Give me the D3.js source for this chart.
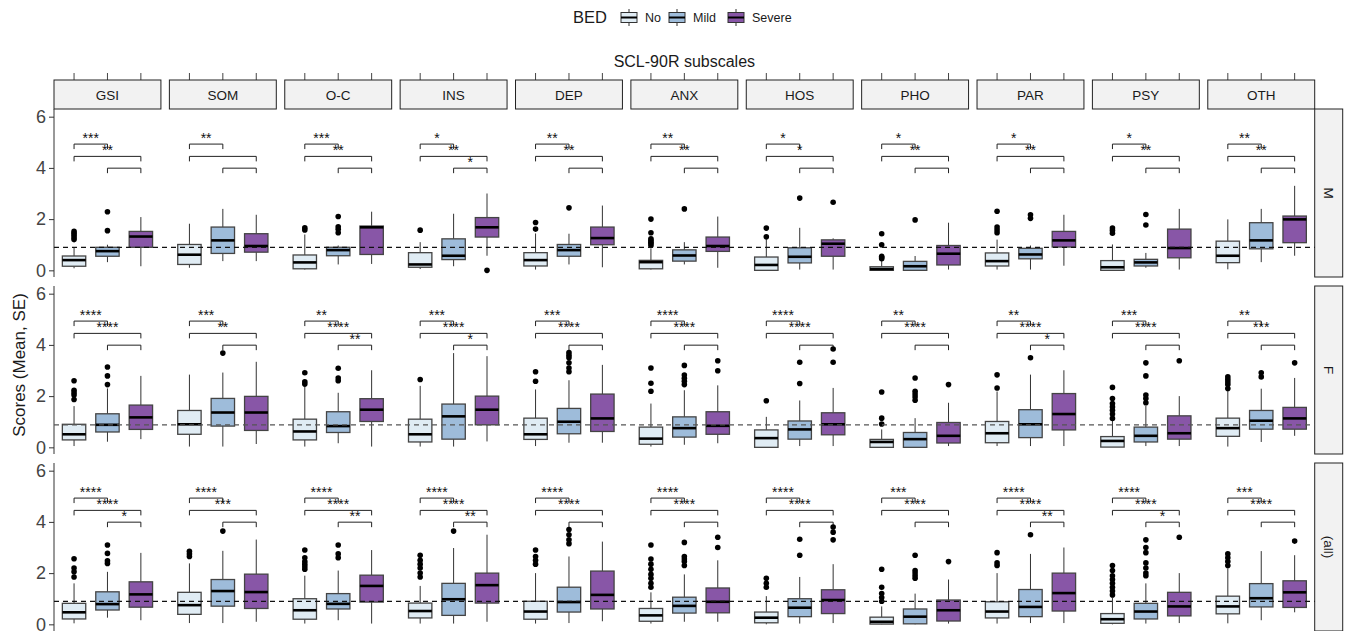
<!DOCTYPE html>
<html>
<head>
<meta charset="utf-8">
<script src="https://cdn.jsdelivr.net/npm/d3@7"></script>
<style>
body { margin: 0; background: #fff; }
svg text { font-family: "Liberation Sans", Arial, sans-serif; }
</style>
</head>
<body>
<div id="chart"></div>
<script>
var subscales = ["GSI", "SOM", "O-C", "INS", "DEP", "ANX", "HOS", "PHO", "PAR", "PSY", "OTH"];
var groups = ["No", "Mild", "Severe"];
var sexes = ["M", "F", "(all)"];
var groupColors = ["#E0ECF4", "#9EBCDA", "#8856A7"];
var yTicks = [0, 2, 4, 6];
var refLine = [0.9, 0.88, 0.9];
var bracketLevels = [4.93, 4.45, 3.99];
var bracketPairs = [[0, 1], [0, 2], [1, 2]];

// [lower whisker, q1, median, q3, upper whisker] per subscale x group
var boxM = [
	[[0.08, 0.16, 0.40, 0.56, 0.9], [0.32, 0.55, 0.75, 0.9, 1.0], [0.16, 0.9, 1.32, 1.52, 2.08]],
	[[0.1, 0.23, 0.61, 1.01, 1.82], [0.36, 0.66, 1.17, 1.69, 2.4], [0.36, 0.71, 0.95, 1.43, 2.17]],
	[[0.03, 0.06, 0.31, 0.6, 1.4], [0.23, 0.57, 0.79, 0.9, 0.97], [0.25, 0.62, 1.68, 1.73, 2.29]],
	[[0.05, 0.12, 0.23, 0.69, 1.1], [0.16, 0.42, 0.57, 1.23, 2.21], [0.57, 1.3, 1.68, 2.06, 3.0]],
	[[0.03, 0.17, 0.4, 0.69, 1.44], [0.23, 0.55, 0.79, 1.01, 1.43], [0.12, 1.0, 1.26, 1.69, 2.53]],
	[[0.03, 0.06, 0.32, 0.39, 0.85], [0.23, 0.36, 0.58, 0.8, 1.1], [0.1, 0.74, 0.95, 1.3, 2.1]],
	[[0, 0, 0.21, 0.52, 1.23], [0.03, 0.29, 0.53, 0.88, 1.66], [0.03, 0.55, 1.04, 1.19, 1.25]],
	[[0, 0, 0.05, 0.14, 0.43], [0, 0, 0.16, 0.35, 0.56], [0.03, 0.21, 0.65, 0.97, 1.86]],
	[[0.03, 0.17, 0.36, 0.68, 1.2], [0.03, 0.45, 0.62, 0.86, 0.97], [0.18, 0.91, 1.17, 1.52, 2.17]],
	[[0, 0, 0.12, 0.38, 1.01], [0.1, 0.17, 0.31, 0.43, 0.68], [0.03, 0.49, 0.87, 1.61, 2.4]],
	[[0.04, 0.3, 0.57, 1.14, 1.99], [0.32, 0.84, 1.17, 1.86, 2.4], [0.57, 1.08, 1.99, 2.12, 3.3]]
];
var boxF = [
	[[0.05, 0.29, 0.51, 0.9, 1.61], [0.22, 0.6, 0.88, 1.31, 2.3], [0.32, 0.7, 1.17, 1.65, 2.79]],
	[[0.03, 0.51, 0.9, 1.44, 2.84], [0.03, 0.83, 1.36, 1.91, 2.92], [0.13, 0.66, 1.36, 1.99, 3.34]],
	[[0.03, 0.29, 0.62, 1.1, 2.36], [0.16, 0.58, 0.83, 1.39, 2.13], [0.03, 1.01, 1.47, 1.9, 3.01]],
	[[0.03, 0.21, 0.51, 1.1, 2.4], [0.03, 0.32, 1.21, 1.69, 3.68], [0.23, 0.88, 1.47, 2.0, 3.56]],
	[[0.05, 0.31, 0.51, 1.14, 2.26], [0.18, 0.53, 1.0, 1.52, 2.62], [0.18, 0.62, 1.13, 2.08, 3.22]],
	[[0.03, 0.12, 0.34, 0.79, 1.71], [0.1, 0.4, 0.75, 1.19, 2.23], [0.16, 0.51, 0.84, 1.39, 2.42]],
	[[0, 0, 0.36, 0.68, 1.19], [0.05, 0.32, 0.7, 1.03, 1.83], [0.05, 0.49, 0.9, 1.35, 2.32]],
	[[0, 0, 0.21, 0.31, 0.7], [0, 0, 0.32, 0.58, 1.14], [0.05, 0.17, 0.45, 0.97, 1.74]],
	[[0.05, 0.18, 0.55, 1.01, 2.18], [0.05, 0.38, 0.9, 1.47, 2.84], [0.05, 0.68, 1.3, 2.1, 3.01]],
	[[0.01, 0.01, 0.25, 0.42, 1.04], [0.05, 0.21, 0.45, 0.79, 1.62], [0.05, 0.32, 0.55, 1.23, 2.0]],
	[[0.03, 0.43, 0.75, 1.14, 2.23], [0.21, 0.71, 1.04, 1.44, 2.29], [0.45, 0.71, 1.13, 1.56, 2.71]]
];
var boxAll = [
	[[0.04, 0.21, 0.47, 0.82, 1.6], [0.26, 0.56, 0.79, 1.27, 2.05], [0.16, 0.67, 1.17, 1.66, 2.79]],
	[[0.05, 0.39, 0.75, 1.25, 2.38], [0.05, 0.71, 1.3, 1.75, 2.87], [0.1, 0.62, 1.26, 1.96, 3.31]],
	[[0.03, 0.2, 0.55, 1.0, 1.9], [0.16, 0.6, 0.8, 1.2, 2.1], [0.03, 0.87, 1.5, 1.92, 2.9]],
	[[0.03, 0.25, 0.52, 0.83, 1.5], [0.03, 0.35, 0.98, 1.6, 2.98], [0.1, 0.83, 1.53, 2.0, 3.5]],
	[[0.03, 0.2, 0.5, 0.9, 2.0], [0.05, 0.48, 0.87, 1.45, 2.65], [0.12, 0.6, 1.15, 2.08, 3.23]],
	[[0.03, 0.12, 0.35, 0.62, 1.25], [0.1, 0.44, 0.72, 1.06, 1.95], [0.1, 0.45, 0.88, 1.42, 2.5]],
	[[0, 0.06, 0.26, 0.48, 1.1], [0.03, 0.3, 0.65, 1.0, 1.85], [0.05, 0.42, 0.95, 1.35, 2.35]],
	[[0, 0.01, 0.1, 0.28, 0.7], [0, 0.02, 0.3, 0.6, 1.2], [0.03, 0.13, 0.55, 0.95, 1.75]],
	[[0.03, 0.25, 0.5, 0.88, 2.0], [0.05, 0.3, 0.68, 1.36, 2.75], [0.05, 0.52, 1.22, 2.0, 3.0]],
	[[0, 0.04, 0.2, 0.42, 1.05], [0.03, 0.21, 0.5, 0.82, 1.6], [0.05, 0.33, 0.7, 1.25, 2.0]],
	[[0.04, 0.41, 0.7, 1.1, 2.19], [0.16, 0.68, 1.02, 1.59, 2.86], [0.47, 0.66, 1.25, 1.7, 2.7]]
];

// outlier points per subscale x group
var outM = [
	[[1.2, 1.28, 1.37, 1.45, 1.52], [1.55, 2.29], []],
	[[], [], []],
	[[1.58, 1.66], [1.47, 1.6, 1.7, 2.1], []],
	[[1.57], [], [0.0]],
	[[1.61, 1.87], [2.44], []],
	[[0.97, 1.05, 1.1, 1.17, 1.23, 1.47, 2.0], [2.4], []],
	[[1.31, 1.65], [2.82], [2.66]],
	[[0.45, 0.5, 0.55, 1.0, 1.43], [1.97], []],
	[[1.47, 1.58, 1.69, 2.31], [2.03, 2.17], []],
	[[1.45, 1.56, 1.65], [1.77, 2.18], []],
	[[], [], []]
];
var outF = [
	[[1.87, 2.04, 2.13, 2.23, 2.6], [2.45, 2.79, 3.14], []],
	[[], [3.68], []],
	[[2.47, 2.56, 2.91], [2.6, 2.71, 3.09], []],
	[[2.65], [], []],
	[[2.58, 2.95], [2.95, 3.1, 3.3, 3.5, 3.6, 3.7], []],
	[[2.19, 2.5, 3.1], [2.45, 2.58, 2.7, 2.82, 3.2], [2.99, 3.38]],
	[[1.82], [2.49, 3.32], [3.32, 3.84]],
	[[0.91, 1.14, 2.16], [1.84, 1.97, 2.08, 2.19, 2.71], [2.45]],
	[[2.32, 2.83], [3.5], []],
	[[1.13, 1.3, 1.45, 1.58, 1.71, 1.91, 2.34], [1.74, 1.91, 2.04, 2.79, 3.3], [3.38]],
	[[2.3, 2.45, 2.55, 2.65, 2.75], [2.75, 2.91], [3.3]]
];
var outAll = [
	[[1.85, 2.05, 2.2, 2.56], [2.38, 2.48, 2.77, 3.1], []],
	[[2.65, 2.75, 2.85], [3.64], []],
	[[2.15, 2.25, 2.35, 2.45, 2.6, 2.9], [2.6, 2.75, 3.1], []],
	[[1.85, 2.0, 2.2, 2.35, 2.5, 2.7], [3.64], []],
	[[2.35, 2.5, 2.65, 2.9], [3.15, 3.3, 3.5, 3.7], []],
	[[1.45, 1.6, 1.8, 1.95, 2.15, 2.35, 2.55, 3.1], [2.3, 2.45, 2.55, 2.65, 3.2], [3.0, 3.4]],
	[[1.45, 1.6, 1.8], [2.7, 3.32], [3.3, 3.6, 3.8]],
	[[0.9, 1.05, 1.2, 1.45, 2.15], [1.8, 1.9, 2.0, 2.1, 2.7], [2.45]],
	[[2.3, 2.4, 2.8], [3.5], []],
	[[1.15, 1.3, 1.45, 1.6, 1.75, 1.9, 2.1, 2.3], [1.9, 2.0, 2.2, 2.4, 2.8, 3.0, 3.3], [3.4]],
	[[2.3, 2.45, 2.6, 2.75], [], [3.25]]
];

// significance labels: No-Mild, No-Severe, Mild-Severe
var sigM = [["***", "**", ""], ["**", "", ""], ["***", "**", ""], ["*", "**", "*"], ["**", "**", ""], ["**", "**", ""],
	["*", "*", ""], ["*", "**", ""], ["*", "**", ""], ["*", "**", ""], ["**", "**", ""]];
var sigF = [["****", "****", ""], ["***", "**", ""], ["**", "****", "**"], ["***", "****", "*"], ["***", "****", ""], ["****", "****", ""],
	["****", "****", ""], ["**", "****", ""], ["**", "****", "*"], ["***", "****", ""], ["**", "***", ""]];
var sigAll = [["****", "****", "*"], ["****", "***", ""], ["****", "****", "**"], ["****", "****", "**"], ["****", "****", ""], ["****", "****", ""],
	["****", "****", ""], ["***", "****", ""], ["****", "****", "**"], ["****", "****", "*"], ["***", "****", ""]];

var rowBoxes = [boxM, boxF, boxAll];
var rowOut = [outM, outF, outAll];
var rowSig = [sigM, sigF, sigAll];

var width = 1346, height = 631;
var left = 54, right = 1314.7;
var rowTops = [109, 286, 463];
var panelH = 168;

var svg = d3.select("#chart").append("svg")
	.attr("width", width)
	.attr("height", height);

var xPanel = d3.scaleBand()
	.domain(subscales)
	.range([left, right])
	.paddingInner(0.0733);
var xIn = d3.scaleLinear()
	.domain([0.4, 3.6])
	.range([0, xPanel.bandwidth()]);
var boxW = xIn(0.35) - xIn(0);

// legend
var legend = svg.append("g").attr("class", "legend");
legend.append("text")
	.attr("x", 573).attr("y", 23)
	.attr("font-size", "16.5px").attr("fill", "#1a1a1a")
	.text("BED");
var keyX = [621, 669, 728];
groups.forEach(function(g, i) {
	var kx = keyX[i];
	legend.append("line")
		.attr("x1", kx + 8).attr("x2", kx + 8)
		.attr("y1", 9).attr("y2", 26)
		.attr("stroke", "#333").attr("stroke-width", 1);
	legend.append("rect")
		.attr("x", kx).attr("y", 12.5)
		.attr("width", 16).attr("height", 10)
		.attr("fill", groupColors[i])
		.attr("stroke", "#333").attr("stroke-width", 1);
	legend.append("line")
		.attr("x1", kx).attr("x2", kx + 16)
		.attr("y1", 17.5).attr("y2", 17.5)
		.attr("stroke", "#000").attr("stroke-width", 2);
	legend.append("text")
		.attr("x", kx + 24).attr("y", 22)
		.attr("font-size", "12.5px").attr("fill", "#1a1a1a")
		.text(g);
});

// facet title
svg.append("text")
	.attr("x", (left + right) / 2).attr("y", 67)
	.attr("text-anchor", "middle")
	.attr("font-size", "16px").attr("fill", "#1a1a1a")
	.text("SCL-90R subscales");

// column strips and their top ticks
subscales.forEach(function(s) {
	var px = xPanel(s);
	[1, 2, 3].forEach(function(k) {
		svg.append("line")
			.attr("x1", px + xIn(k)).attr("x2", px + xIn(k))
			.attr("y1", 73).attr("y2", 80)
			.attr("stroke", "#444").attr("stroke-width", 1);
	});
	svg.append("rect")
		.attr("x", px).attr("y", 80)
		.attr("width", xPanel.bandwidth()).attr("height", 29)
		.attr("fill", "#F2F2F2")
		.attr("stroke", "#222").attr("stroke-width", 1);
	svg.append("text")
		.attr("x", px + xPanel.bandwidth() / 2).attr("y", 99.5)
		.attr("text-anchor", "middle")
		.attr("font-size", "13.5px").attr("fill", "#1a1a1a")
		.text(s);
});

// y axis title
svg.append("text")
	.attr("transform", "translate(19," + 365 + ") rotate(-90)")
	.attr("text-anchor", "middle")
	.attr("dominant-baseline", "central")
	.attr("font-size", "17px").attr("fill", "#1a1a1a")
	.text("Scores (Mean, SE)");

sexes.forEach(function(sex, r) {
	var top = rowTops[r];
	var y = d3.scaleLinear()
		.domain([-0.26, 6.3])
		.range([top + panelH, top]);
	var row = svg.append("g").attr("class", "row_" + r);

	// right strip
	row.append("rect")
		.attr("x", right).attr("y", top)
		.attr("width", 28).attr("height", panelH)
		.attr("fill", "#F2F2F2")
		.attr("stroke", "#222").attr("stroke-width", 1);
	row.append("text")
		.attr("transform", "translate(" + (right + 14) + "," + (top + panelH / 2) + ") rotate(90)")
		.attr("text-anchor", "middle")
		.attr("dominant-baseline", "central")
		.attr("font-size", "13.5px").attr("fill", "#1a1a1a")
		.text(sex);

	// y axis on first column
	var yAxis = d3.axisLeft(y).tickValues(yTicks).tickFormat(d3.format("d")).tickSize(5).tickPadding(3);
	var ax = row.append("g")
		.attr("transform", "translate(" + left + ",0)")
		.call(yAxis);
	ax.select(".domain").attr("d", "M0," + top + "V" + (top + panelH)).attr("stroke", "#333");
	ax.selectAll(".tick line").attr("stroke", "#333");
	ax.selectAll(".tick text")
		.attr("font-size", "18px")
		.attr("fill", "#444")
		.attr("font-family", "Liberation Sans, Arial, sans-serif");

	var boxes = rowBoxes[r];
	var outs = rowOut[r];
	var sigs = rowSig[r];

	subscales.forEach(function(s, si) {
		var px = xPanel(s);
		var pg = row.append("g").attr("transform", "translate(" + px + ",0)");

		// brackets
		bracketPairs.forEach(function(pair, bi) {
			var x1 = xIn(pair[0] + 1), x2 = xIn(pair[1] + 1);
			var by = y(bracketLevels[bi]);
			pg.append("path")
				.attr("d", "M" + x1 + "," + (by + 5) + "V" + by + "H" + x2 + "V" + (by + 5))
				.attr("fill", "none")
				.attr("stroke", "#222").attr("stroke-width", 1);
		});
		bracketPairs.forEach(function(pair, bi) {
			var lab = sigs[si][bi];
			if(lab == "") return;
			pg.append("text")
				.attr("x", xIn((pair[0] + pair[1]) / 2 + 1))
				.attr("y", y(bracketLevels[bi]) - 1.5)
				.attr("text-anchor", "middle")
				.attr("font-size", "14px").attr("fill", "#111")
				.text(lab);
		});

		groups.forEach(function(g, gi) {
			var st = boxes[si][gi];
			var cx = xIn(gi + 1);
			// whiskers
			pg.append("line")
				.attr("x1", cx).attr("x2", cx)
				.attr("y1", y(st[4])).attr("y2", y(st[3]))
				.attr("stroke", "#333").attr("stroke-width", 1);
			pg.append("line")
				.attr("x1", cx).attr("x2", cx)
				.attr("y1", y(st[1])).attr("y2", y(st[0]))
				.attr("stroke", "#333").attr("stroke-width", 1);
			pg.append("rect")
				.attr("x", cx - boxW).attr("y", y(st[3]))
				.attr("width", boxW * 2).attr("height", Math.max(y(st[1]) - y(st[3]), 0.5))
				.attr("fill", groupColors[gi])
				.attr("stroke", "#444").attr("stroke-width", 1.3);
			pg.append("line")
				.attr("x1", cx - boxW).attr("x2", cx + boxW)
				.attr("y1", y(st[2])).attr("y2", y(st[2]))
				.attr("stroke", "#000").attr("stroke-width", 2.6);
			pg.selectAll("circle.out_" + gi)
				.data(outs[si][gi])
				.enter()
				.append("circle")
				.attr("class", "out_" + gi)
				.attr("cx", cx)
				.attr("cy", function(d) { return y(d); })
				.attr("r", 2.8)
				.attr("fill", "#000");
		});
	});

	// reference line across the row
	row.append("line")
		.attr("x1", left).attr("x2", right)
		.attr("y1", y(refLine[r])).attr("y2", y(refLine[r]))
		.attr("stroke", r == 1 ? "#555" : "#111")
		.attr("stroke-width", 1.2)
		.attr("stroke-dasharray", "5,4");
});
</script>
</body>
</html>
